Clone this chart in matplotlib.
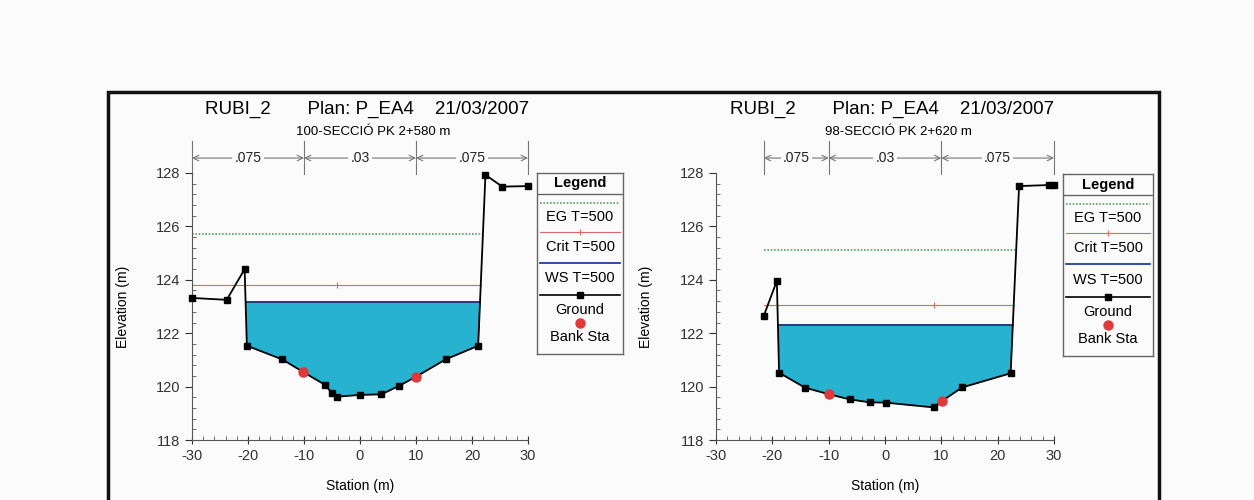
import matplotlib
matplotlib.use('Agg')
import matplotlib.pyplot as plt
import numpy as np
from matplotlib.patches import Rectangle
from matplotlib.ticker import MultipleLocator

plt.rcParams['font.family'] = ['Liberation Sans', 'DejaVu Sans']
plt.rcParams['axes.unicode_minus'] = False

# section 100 - PK 2+580
st_a = [-30.0, -23.8, -20.6, -20.2, -13.9, -10.1, -6.2, -5.0, -4.1, 0.0, 3.8, 7.0, 10.0, 15.3, 21.1, 22.4, 25.4, 30.0]
z_a = [123.32, 123.25, 124.4, 121.53, 121.02, 120.54, 120.06, 119.75, 119.62, 119.69, 119.71, 120.03, 120.37, 121.02, 121.53, 127.93, 127.49, 127.51]
bank_a = [-10.1, 10.0]
ws_a, crit_a, eg_a = 123.18, 123.8, 125.72
nbound_a = [-30, -10, 10, 30]
nval_a = ['.075', '.03', '.075']

# section 98 - PK 2+620
st_b = [-21.5, -19.2, -18.8, -14.2, -9.9, -6.2, -2.7, 0.1, 8.7, 10.1, 13.7, 22.3, 23.8, 29.2, 30.0]
z_b = [122.66, 123.96, 120.52, 119.96, 119.71, 119.52, 119.41, 119.40, 119.22, 119.46, 119.97, 120.5, 127.51, 127.55, 127.54]
bank_b = [-9.9, 10.1]
ws_b, crit_b, eg_b = 122.31, 123.04, 125.12
nbound_b = [-21.5, -10, 10, 30]
nval_b = ['.075', '.03', '.075']

titles = ['100-SECCIÓ PK 2+580 m', '98-SECCIÓ PK 2+620 m']
header = 'RUBI_2       Plan: P_EA4    21/03/2007'

water = '#27b2cf'
bg = '#fafbfa'


def extent(st, z, h):
    # outermost points where a level h meets the ground
    st, z = np.asarray(st), np.asarray(z)
    if z[0] < h:
        a = st[0]
    else:
        i = np.argmax(z < h)
        a = np.interp(h, [z[i], z[i - 1]], [st[i], st[i - 1]])
    if z[-1] < h:
        b = st[-1]
    else:
        j = len(z) - 1 - np.argmax(z[::-1] < h)
        b = np.interp(h, [z[j], z[j + 1]], [st[j], st[j + 1]])
    return a, b


fig = plt.figure(figsize=(12.54, 5), dpi=100, facecolor=bg)

sections = [
    (st_a, z_a, bank_a, ws_a, crit_a, eg_a, nbound_a, nval_a),
    (st_b, z_b, bank_b, ws_b, crit_b, eg_b, nbound_b, nval_b),
]
ax_pos = [[192 / 1254, 0.12, 336 / 1254, 0.534], [716 / 1254, 0.12, 338 / 1254, 0.534]]
leg_pos = [[537 / 1254, 0.292, 86 / 1254, 0.362], [1063 / 1254, 0.288, 90 / 1254, 0.364]]

for k, (st, z, bank, ws, crit, eg, nb, nv) in enumerate(sections):
    ax = fig.add_axes(ax_pos[k])
    ax.set_facecolor(bg)
    st_arr, z_arr = np.asarray(st), np.asarray(z)

    # water fill
    a, b = extent(st, z, ws)
    inside = (st_arr > a) & (st_arr < b)
    xf = np.concatenate([[a], st_arr[inside], [b]])
    zf = np.concatenate([[ws], z_arr[inside], [ws]])
    ax.fill_between(xf, zf, ws, color=water, lw=0, zorder=1)
    ax.plot([a, b], [ws, ws], color='#1a2e6e', lw=1.3, zorder=3)

    a2, b2 = extent(st, z, eg)
    ax.plot([a2, b2], [eg, eg], color='#5f9a6a', lw=1.2, ls=(0, (1, 1)), zorder=2)
    a3, b3 = extent(st, z, crit)
    ax.plot([a3, b3], [crit, crit], color='#d46a6a', lw=0.8, zorder=2)
    ax.plot(st[int(np.argmin(z))], crit, marker='+', color='#d46a6a', ms=4, mew=0.8)

    ax.plot(st, z, color='black', lw=1.3, marker='s', ms=4.5, zorder=4, clip_on=False)
    ax.plot(bank, np.interp(bank, st, z), 'o', color='#e0393c', ms=6.5, zorder=5, clip_on=False)

    ax.set_xlim(-30, 30)
    ax.set_ylim(118, 128)
    ax.spines['top'].set_visible(False)
    ax.spines['right'].set_visible(False)
    ax.spines['left'].set_color('#555555')
    ax.spines['bottom'].set_color('#555555')
    ax.xaxis.set_major_locator(MultipleLocator(10))
    ax.xaxis.set_minor_locator(MultipleLocator(2))
    ax.yaxis.set_major_locator(MultipleLocator(2))
    ax.yaxis.set_minor_locator(MultipleLocator(0.4))
    ax.tick_params(axis='x', which='major', direction='inout', length=6, labelsize=10.5, colors='#333333')
    ax.tick_params(axis='x', which='minor', direction='in', length=3, colors='#555555')
    ax.tick_params(axis='y', which='major', direction='out', length=5, labelsize=10.5, colors='#333333')
    ax.tick_params(axis='y', which='minor', direction='in', length=3, colors='#555555')
    ax.set_xlabel('Station (m)', fontsize=10)
    ax.set_ylabel('Elevation (m)', fontsize=10)
    ax.xaxis.set_label_coords(0.5, -0.145)
    ax.yaxis.set_label_coords(-0.185, 0.5)

    # manning n bar above plot
    yn = 128.56
    for xb in nb:
        ax.plot([xb, xb], [127.95, 129.2], color='#777777', lw=0.8, clip_on=False)
    for i, lab in enumerate(nv):
        xm = (nb[i] + nb[i + 1]) / 2
        for xe in (nb[i], nb[i + 1]):
            ax.annotate('', xy=(xe, yn), xytext=(xm, yn), annotation_clip=False,
                        arrowprops=dict(arrowstyle='->', color='#777777', lw=0.8,
                                        shrinkA=0, shrinkB=0))
        ax.text(xm, yn, lab, ha='center', va='center', fontsize=10, color='#222222',
                bbox=dict(facecolor=bg, edgecolor='none', pad=1.5), clip_on=False)

    # titles
    xc = (ax_pos[k][0] + ax_pos[k][2] * 0.52)
    fig.text(xc, 0.782, header, ha='center', va='center', fontsize=13.5)
    fig.text(xc + 0.005, 0.736, titles[k], ha='center', va='center', fontsize=9.5)

    # legend box
    lg = fig.add_axes(leg_pos[k])
    lg.set_xlim(0, 1)
    lg.set_ylim(1, 0)
    lg.set_xticks([])
    lg.set_yticks([])
    lg.set_facecolor(bg)
    for s in lg.spines.values():
        s.set_color('#666666')
        s.set_linewidth(1.0)
    lg.text(0.5, 0.058, 'Legend', ha='center', va='center', fontsize=10.5, fontweight='bold')
    lg.plot([0, 1], [0.115, 0.115], color='#666666', lw=1.0)
    lx = [0.03, 0.97]
    lg.plot(lx, [0.166, 0.166], color='#5f9a6a', lw=1.2, ls=(0, (1, 1)))
    lg.text(0.5, 0.243, 'EG T=500', ha='center', va='center', fontsize=10.5)
    lg.plot(lx, [0.326, 0.326], color='#d46a6a', lw=0.8)
    lg.plot(0.5, 0.326, marker='+', color='#d46a6a', ms=4, mew=0.8)
    lg.text(0.5, 0.409, 'Crit T=500', ha='center', va='center', fontsize=10.5)
    lg.plot(lx, [0.497, 0.497], color='#1f3f9a', lw=1.3)
    lg.text(0.5, 0.58, 'WS T=500', ha='center', va='center', fontsize=10.5)
    lg.plot(lx, [0.674, 0.674], color='black', lw=1.2)
    lg.plot(0.5, 0.674, marker='s', color='black', ms=4.5)
    lg.text(0.5, 0.757, 'Ground', ha='center', va='center', fontsize=10.5)
    lg.plot(0.5, 0.83, 'o', color='#e0393c', ms=6.5)
    lg.text(0.5, 0.906, 'Bank Sta', ha='center', va='center', fontsize=10.5)

# outer frame of the printed page
fig.add_artist(Rectangle((108 / 1254, -0.05), (1159 - 108) / 1254, 0.866,
                         transform=fig.transFigure, fill=False, lw=2.5, ec='#111111'))

fig.savefig('out.png', dpi=100, facecolor=bg)
